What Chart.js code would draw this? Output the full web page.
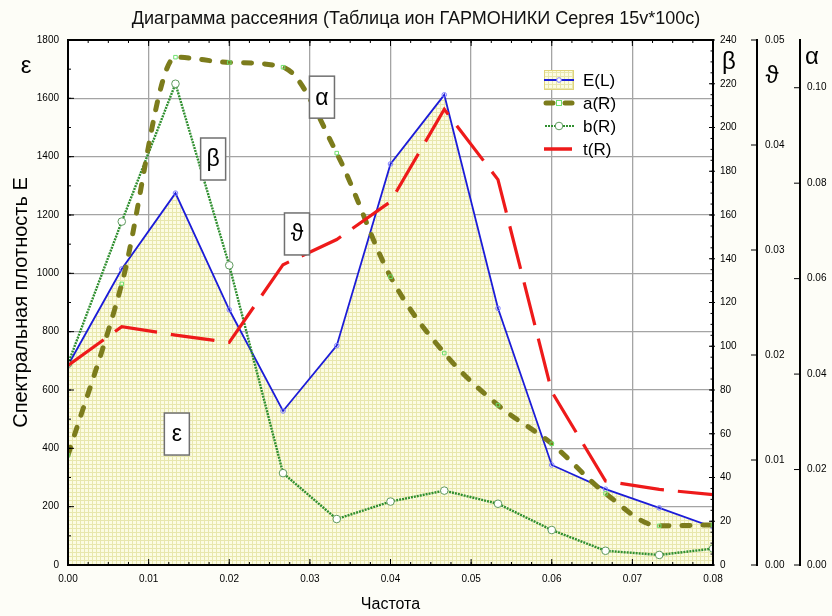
<!DOCTYPE html>
<html lang="ru">
<head>
<meta charset="utf-8">
<title>Диаграмма рассеяния</title>
<script src="https://cdn.jsdelivr.net/npm/chart.js@4.4.1/dist/chart.umd.min.js"></script>
<style>
  html, body { margin: 0; padding: 0; background: #fdfdf7; }
  #box { position: relative; width: 832px; height: 616px; }
</style>
</head>
<body>
<div id="box"><canvas id="chart" width="832" height="616"></canvas></div>
<script>
// Frequency grid (x) and the four measured series
const frequency = [0.00000, 0.00667, 0.01333, 0.02000, 0.02667, 0.03333, 0.04000,
                   0.04667, 0.05333, 0.06000, 0.06667, 0.07333, 0.08000];
const spectralE = [685, 1015, 1275, 875, 528, 752, 1375, 1612, 880, 343, 260, 196, 130];
const alphaR    = [0.0230, 0.0589, 0.1064, 0.1053, 0.1043, 0.0863, 0.0604,
                   0.0444, 0.0335, 0.0254, 0.0150, 0.0082, 0.0084];
const betaR     = [92, 157, 220, 137, 42, 21, 29, 34, 28, 16, 6.5, 4.6, 7.5];
const thetaR    = [0.0190, 0.0227, 0.0219, 0.0212, 0.0286, 0.0310, 0.0346,
                   0.0434, 0.0367, 0.0165, 0.0080, 0.0072, 0.0067];

const seriesNames = ['E(L)', 'a(R)', 'b(R)', 't(R)'];
const chartTitle  = 'Диаграмма рассеяния (Таблица ион ГАРМОНИКИ Сергея 15v*100с)';
const xTitle      = 'Частота';
const yTitle      = 'Спектральная плотность E';

// Boxed curve symbols, placed in (frequency, E) coordinates
const curveTags = [
  { text: 'α', x: 0.0315, e: 1604 },
  { text: 'β', x: 0.0180, e: 1392 },
  { text: 'ϑ', x: 0.0284, e: 1135 },
  { text: 'ε', x: 0.0135, e: 449 }
];
// Symbol written at the head of each value axis
const axisSymbols = { yE: 'ε', yB: 'β', yT: 'ϑ', yA: 'α' };

const FONT_SANS = "'Liberation Sans', Arial, sans-serif";

const toPoints = ys => frequency.map((f, i) => ({ x: f, y: ys[i] }));

// Pale yellow cross-hatch used under the E curve
function yellowHatch() {
  const c = document.createElement('canvas');
  c.width = 4; c.height = 4;
  const g = c.getContext('2d');
  g.fillStyle = '#fcfce3';
  g.fillRect(0, 0, 4, 4);
  g.fillStyle = '#e8e7ad';
  g.fillRect(0, 0, 4, 1);
  g.fillRect(0, 0, 1, 4);
  return g.createPattern(c, 'repeat');
}
const hatch = yellowHatch();

const pageBackground = {
  id: 'pageBackground',
  beforeDraw(chart) {
    const { ctx, chartArea: a } = chart;
    ctx.save();
    ctx.fillStyle = '#fdfdf7';
    ctx.fillRect(0, 0, chart.width, chart.height);
    ctx.fillStyle = '#ffffff';
    ctx.fillRect(a.left, a.top, a.right - a.left, a.bottom - a.top);
    ctx.restore();
  }
};

function tickRun(scale, step, fn) {
  const n = Math.round((scale.max - scale.min) / step);
  for (let i = 0; i <= n; i++) fn(scale.getPixelForValue(scale.min + i * step));
}

// Plot frame plus inward tick marks (major and minor)
const frameAndTicks = {
  id: 'frameAndTicks',
  afterDatasetsDraw(chart) {
    const { ctx, chartArea: a, scales: s } = chart;
    const h = (x1, x2, y) => { ctx.moveTo(x1, y); ctx.lineTo(x2, y); };
    const v = (x, y1, y2) => { ctx.moveTo(x, y1); ctx.lineTo(x, y2); };
    ctx.save();
    ctx.strokeStyle = '#000';
    ctx.lineWidth = 1;
    ctx.beginPath();
    tickRun(s.x, 0.0025, px => { v(px, a.bottom, a.bottom - 3); v(px, a.top, a.top + 3); });
    tickRun(s.x, 0.01, px => { v(px, a.bottom, a.bottom - 6); v(px, a.top, a.top + 6); });
    tickRun(s.yE, 100, py => h(a.left, a.left + 3, py));
    tickRun(s.yE, 200, py => h(a.left, a.left + 6, py));
    tickRun(s.yB, 5, py => h(a.right, a.right - 2.5, py));
    tickRun(s.yB, 20, py => h(a.right + 2, a.right - 4, py));
    s.yT.ticks.forEach(t => h(s.yT.left, s.yT.left - 6, s.yT.getPixelForValue(t.value)));
    s.yA.ticks.forEach(t => h(s.yA.left, s.yA.left - 6, s.yA.getPixelForValue(t.value)));
    ctx.stroke();
    ctx.lineWidth = 2;
    ctx.strokeRect(a.left, a.top, a.right - a.left, a.bottom - a.top);
    ctx.restore();
  }
};

// Boxed symbols next to the curves and Greek letters at the axis heads
const symbols = {
  id: 'symbols',
  afterDatasetsDraw(chart) {
    const { ctx, chartArea: a, scales: s } = chart;
    ctx.save();
    ctx.textAlign = 'center';
    ctx.textBaseline = 'middle';
    ctx.font = `23px ${FONT_SANS}`;
    curveTags.forEach(tag => {
      const cx = s.x.getPixelForValue(tag.x);
      const cy = s.yE.getPixelForValue(tag.e);
      ctx.fillStyle = '#ffffff';
      ctx.fillRect(cx - 12.5, cy - 21, 25, 42);
      ctx.strokeStyle = '#707070';
      ctx.lineWidth = 1.5;
      ctx.strokeRect(cx - 12.5, cy - 21, 25, 42);
      ctx.fillStyle = '#000';
      ctx.fillText(tag.text, cx, cy + 1);
    });
    ctx.font = `24px ${FONT_SANS}`;
    ctx.fillStyle = '#000';
    ctx.fillText(axisSymbols.yE, s.yE.left + 26, a.top + 26);
    ctx.fillText(axisSymbols.yB, s.yB.left + 16, a.top + 22);
    ctx.fillText(axisSymbols.yT, s.yT.left + 15, a.top + 36);
    ctx.fillText(axisSymbols.yA, s.yA.left + 12, a.top + 17);
    ctx.restore();
  }
};

// Legend drawn inside the plot, samples mirror each dataset's styling
const insetLegend = {
  id: 'insetLegend',
  afterDatasetsDraw(chart, args, opts) {
    const { ctx, chartArea: a } = chart;
    const ds = chart.data.datasets;
    const x0 = a.left + opts.offsetX;
    const mid = x0 + 15;
    const line = (x1, x2, y) => { ctx.beginPath(); ctx.moveTo(x1, y); ctx.lineTo(x2, y); ctx.stroke(); };
    ctx.save();
    let y = a.top + opts.offsetY;

    // E(L)
    ctx.fillStyle = ds[0].backgroundColor;
    ctx.fillRect(x0, y - 10, 30, 20);
    ctx.strokeStyle = '#e0d47a'; ctx.lineWidth = 1;
    ctx.strokeRect(x0 + 0.5, y - 9.5, 29, 19);
    ctx.strokeStyle = ds[0].borderColor; ctx.lineWidth = 2;
    line(x0, x0 + 30, y);
    ctx.beginPath(); ctx.arc(mid, y, 2.3, 0, Math.PI * 2);
    ctx.fillStyle = '#fff'; ctx.fill();
    ctx.strokeStyle = ds[0].pointBorderColor; ctx.lineWidth = 1; ctx.stroke();

    // a(R)
    y += opts.rowHeight;
    ctx.strokeStyle = ds[1].borderColor; ctx.lineWidth = 5; ctx.lineCap = 'round';
    line(x0 + 2, x0 + 9, y);
    line(x0 + 21, x0 + 28, y);
    ctx.lineCap = 'butt';
    ctx.strokeStyle = ds[1].pointBorderColor; ctx.lineWidth = 1;
    ctx.strokeRect(mid - 2.5, y - 2.5, 5, 5);

    // b(R)
    y += opts.rowHeight;
    ctx.strokeStyle = ds[2].borderColor; ctx.lineWidth = 2; ctx.setLineDash(ds[2].borderDash);
    line(x0 + 1, x0 + 31, y);
    ctx.setLineDash([]);
    ctx.beginPath(); ctx.arc(mid, y, 3.8, 0, Math.PI * 2);
    ctx.fillStyle = '#fff'; ctx.fill();
    ctx.strokeStyle = ds[2].pointBorderColor; ctx.lineWidth = 1; ctx.stroke();

    // t(R)
    y += opts.rowHeight;
    ctx.strokeStyle = ds[3].borderColor; ctx.lineWidth = 3.5;
    line(x0, x0 + 28, y);

    ctx.fillStyle = '#000';
    ctx.font = `17px ${FONT_SANS}`;
    ctx.textAlign = 'left';
    ctx.textBaseline = 'middle';
    seriesNames.forEach((name, i) => ctx.fillText(name, x0 + 39, a.top + opts.offsetY + i * opts.rowHeight + 1));
    ctx.restore();
  }
};

const tickFont = { family: FONT_SANS, size: 10 };
const gridStyle = { color: '#a4a4a4', lineWidth: 1.3, drawTicks: false };
const sideGrid = { drawOnChartArea: false, drawTicks: false };
const sideBorder = { display: true, color: '#000', width: 2 };
const plain = v => String(v);
const fixed2 = v => v.toFixed(2);

new Chart(document.getElementById('chart'), {
  type: 'line',
  data: {
    datasets: [
      {
        label: seriesNames[0], data: toPoints(spectralE), yAxisID: 'yE', order: 4,
        borderColor: '#1c1cd8', borderWidth: 1.8, tension: 0,
        fill: 'origin', backgroundColor: hatch,
        pointRadius: 2.3, pointBorderWidth: 1, pointBorderColor: '#8080ff',
        pointBackgroundColor: 'rgba(255,255,255,0)'
      },
      {
        label: seriesNames[1], data: toPoints(alphaR), yAxisID: 'yA', order: 2,
        borderColor: '#7c7c1c', borderWidth: 5, borderDash: [8, 13], borderCapStyle: 'round',
        cubicInterpolationMode: 'monotone', fill: false,
        pointStyle: 'rect', pointRadius: 2.5, pointBorderWidth: 1,
        pointBorderColor: '#6fe06f', pointBackgroundColor: 'rgba(0,0,0,0)'
      },
      {
        label: seriesNames[2], data: toPoints(betaR), yAxisID: 'yB', order: 3,
        borderColor: '#2f8f2f', borderWidth: 2.4, borderDash: [2, 1], tension: 0, fill: false,
        pointRadius: 3.8, pointBorderWidth: 1, pointBorderColor: '#5f9a5f',
        pointBackgroundColor: '#ffffff'
      },
      {
        label: seriesNames[3], data: toPoints(thetaR), yAxisID: 'yT', order: 1,
        borderColor: '#ee1a1a', borderWidth: 3.2, borderDash: [44, 14], tension: 0, fill: false,
        pointRadius: 0
      }
    ]
  },
  options: {
    responsive: false,
    animation: false,
    events: [],
    layout: { padding: 0 },
    plugins: {
      legend: { display: false },
      tooltip: { enabled: false },
      title: {
        display: true, text: chartTitle, color: '#111',
        font: { family: FONT_SANS, size: 18, weight: 'normal' },
        padding: { top: 8, bottom: 10.4 }
      },
      insetLegend: { offsetX: 476, offsetY: 40, rowHeight: 23 }
    },
    scales: {
      x: {
        type: 'linear', min: 0, max: 0.08,
        afterFit: s => { s.height = 51; },
        grid: gridStyle, border: { display: false },
        ticks: { stepSize: 0.01, padding: 8, autoSkip: false, maxRotation: 0,
                 font: tickFont, color: '#000', callback: fixed2 },
        title: { display: true, text: xTitle, color: '#000',
                 font: { family: FONT_SANS, size: 16 }, padding: { top: 0, bottom: 2 } }
      },
      yE: {
        position: 'left', min: 0, max: 1800,
        afterFit: s => { s.width = 68; },
        grid: gridStyle, border: { display: false },
        ticks: { stepSize: 200, padding: 9, font: tickFont, color: '#000', callback: plain },
        title: { display: true, text: yTitle, color: '#000',
                 font: { family: FONT_SANS, size: 20 }, padding: { top: 9, bottom: 0 } }
      },
      yB: {
        position: 'right', weight: 1, min: 0, max: 240,
        afterFit: s => { s.width = 44; },
        grid: sideGrid, border: sideBorder,
        ticks: { stepSize: 20, padding: 7, font: tickFont, color: '#000', callback: plain }
      },
      yT: {
        position: 'right', weight: 2, min: 0, max: 0.05,
        afterFit: s => { s.width = 43; },
        grid: sideGrid, border: sideBorder,
        ticks: { stepSize: 0.01, padding: 8, font: tickFont, color: '#000', callback: fixed2 }
      },
      yA: {
        position: 'right', weight: 3, min: 0, max: 0.11,
        afterFit: s => { s.width = 32; },
        afterBuildTicks: s => { s.ticks = s.ticks.filter(t => t.value <= 0.1001); },
        grid: sideGrid, border: sideBorder,
        ticks: { stepSize: 0.02, padding: 7, font: tickFont, color: '#000', callback: fixed2 }
      }
    }
  },
  plugins: [pageBackground, frameAndTicks, symbols, insetLegend]
});
</script>
</body>
</html>
